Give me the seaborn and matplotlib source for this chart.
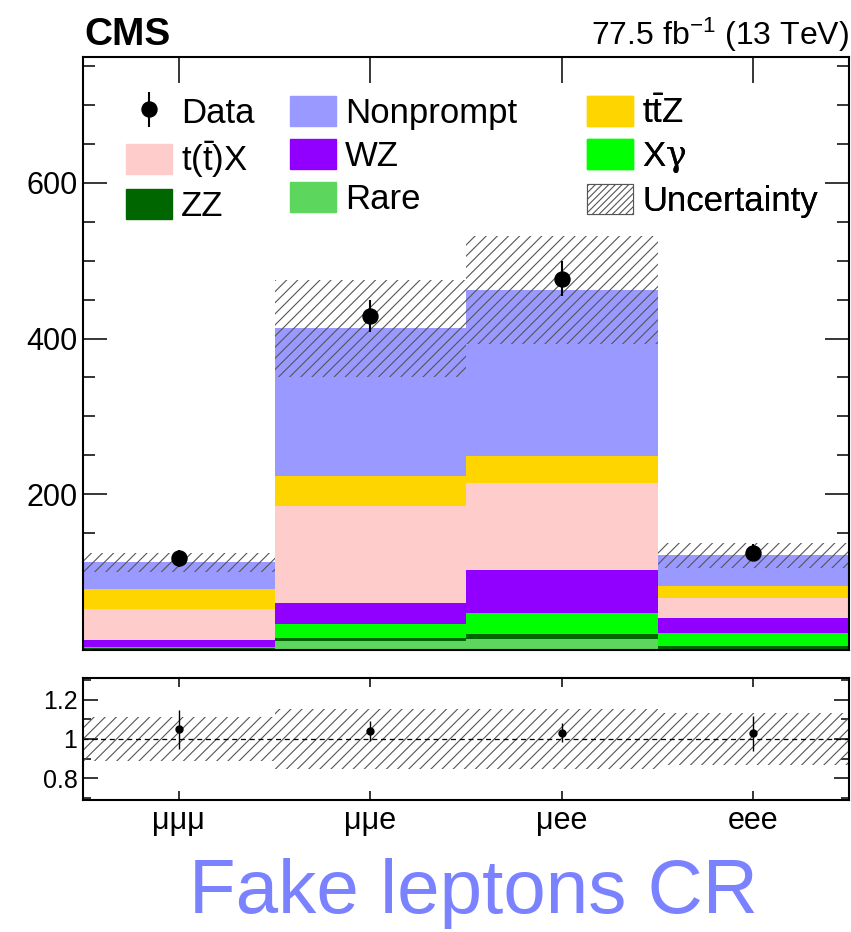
import numpy as np
import pandas as pd
import matplotlib
matplotlib.use("Agg")
import matplotlib.pyplot as plt
from matplotlib.patches import Patch
import seaborn as sns

# ---- data -------------------------------------------------------------
channels = ["μμμ", "μμe", "μee", "eee"]

# background processes, listed from top of the stack to the bottom
processes = ["Nonprompt", "ttZ", "tX", "WZ", "Xgamma", "ZZ", "Rare"]
nonprompt = [34, 190, 213, 39]
ttz = [26, 38, 35, 16]
ttx = [40, 124, 111, 26]
wz = [9, 27, 56, 19]
xgamma = [0.5, 18, 26, 17]
zz = [2, 4, 7, 4]
rare = [1, 12, 14, 0.5]

data_obs = [118, 429, 477, 125]
data_err = [11, 21, 22, 11]
rel_unc = [0.11, 0.15, 0.15, 0.13]

labels = {
    "Nonprompt": "Nonprompt",
    "ttZ": r"t$\bar{\mathrm{t}}$Z",
    "tX": r"t($\bar{\mathrm{t}}$)X",
    "WZ": "WZ",
    "Xgamma": r"X$\mathsf{\gamma}$",
    "ZZ": "ZZ",
    "Rare": "Rare",
}
colors = {
    "Nonprompt": "#9999ff",
    "ttZ": "#ffd500",
    "tX": "#ffcccc",
    "WZ": "#9100ff",
    "Xgamma": "#00ff00",
    "ZZ": "#006600",
    "Rare": "#5cd65c",
}

# ---- style ------------------------------------------------------------
sns.set_style("ticks")
plt.rcParams["font.family"] = ["Liberation Sans", "DejaVu Sans"]
plt.rcParams["mathtext.fontset"] = "custom"
plt.rcParams["mathtext.rm"] = "Liberation Sans"
plt.rcParams["mathtext.it"] = "Liberation Sans:italic"
plt.rcParams["mathtext.bf"] = "Liberation Sans:bold"
plt.rcParams["mathtext.sf"] = "DejaVu Serif"
plt.rcParams["mathtext.default"] = "rm"
plt.rcParams["hatch.linewidth"] = 0.8
plt.rcParams["axes.linewidth"] = 1.5
for key in ["text.color", "axes.labelcolor", "axes.edgecolor",
            "xtick.color", "ytick.color"]:
    plt.rcParams[key] = "black"

W, H = 851, 932
fig = plt.figure(figsize=(W / 100, H / 100), dpi=100)

def frac_box(x0, y0, x1, y1):
    return [x0 / W, 1 - y1 / H, (x1 - x0) / W, (y1 - y0) / H]

ax = fig.add_axes(frac_box(83, 56.7, 849, 650))
axr = fig.add_axes(frac_box(83, 678, 849, 800))

n_bins = len(channels)
bin_edges = [float(i) for i in range(n_bins + 1)]
centers = np.arange(n_bins) + 0.5

values = {"Nonprompt": nonprompt, "ttZ": ttz, "tX": ttx, "WZ": wz,
          "Xgamma": xgamma, "ZZ": zz, "Rare": rare}
df = pd.DataFrame(
    [{"bin": float(c), "process": p, "events": float(values[p][i])}
     for p in processes for i, c in enumerate(centers)]
)

sns.histplot(data=df, x="bin", weights="events", hue="process",
             hue_order=processes, palette=colors, multiple="stack",
             bins=bin_edges, element="bars", fill=True, alpha=1,
             linewidth=0, legend=False, ax=ax)

pred = np.sum([values[p] for p in processes], axis=0)
obs = np.array(data_obs, dtype=float)
err = np.array(data_err, dtype=float)
unc = np.array(rel_unc)

hatch_kw = dict(width=1.0, align="center", fill=False, hatch="///",
                edgecolor="#555555", linewidth=0)
ax.bar(centers, 2 * pred * unc, bottom=pred * (1 - unc), **hatch_kw)

data_handle = ax.errorbar(centers, obs, yerr=err, fmt="o", color="black",
                          markersize=10.8, elinewidth=1.5, capsize=0)

ax.set_xlim(0, 4)
ax.set_ylim(0, 762)
ax.set_xlabel("")
ax.set_ylabel("")
ax.set_xticks(centers)
ax.set_xticklabels([])
ax.set_yticks([200, 400, 600])
ax.set_yticks(np.arange(0, 762, 50), minor=True)
ax.tick_params(axis="x", which="major", direction="in", top=True, bottom=True,
               length=19, width=1.1)
ax.tick_params(axis="x", which="minor", top=False, bottom=False)
ax.tick_params(axis="y", which="major", direction="in", left=True, right=True,
               length=17, width=1.1, labelsize=22, pad=4)
ax.tick_params(axis="y", which="minor", direction="in", left=True, right=True,
               length=8.5, width=1.1)
for s in ax.spines.values():
    s.set_visible(True)

# ---- legend in three columns -------------------------------------------
leg_kw = dict(loc="upper left", frameon=False, fontsize=25, borderpad=0,
              borderaxespad=0, handlelength=1.33, handleheight=0.95,
              handletextpad=0.26, labelspacing=0.27)

unc_handle = Patch(facecolor="white", edgecolor="#555555", hatch="/////",
                   linewidth=0.8)
col1 = [(data_handle, "Data"),
        (Patch(color=colors["tX"]), labels["tX"]),
        (Patch(color=colors["ZZ"]), labels["ZZ"])]
col2 = [(Patch(color=colors["Nonprompt"]), labels["Nonprompt"]),
        (Patch(color=colors["WZ"]), labels["WZ"]),
        (Patch(color=colors["Rare"]), labels["Rare"])]
col3 = [(Patch(color=colors["ttZ"]), labels["ttZ"]),
        (Patch(color=colors["Xgamma"]), labels["Xgamma"]),
        (unc_handle, "Uncertainty")]

for xpos, col in zip([0.056, 0.270, 0.658], [col1, col2, col3]):
    h, l = zip(*col)
    leg = ax.legend(h, l, bbox_to_anchor=(xpos, 0.934), **leg_kw)
    ax.add_artist(leg)

# ---- ratio panel ---------------------------------------------------------
axr.bar(centers, 2 * unc, bottom=1 - unc, **hatch_kw)
axr.axhline(1.0, color="black", linestyle=(0, (4, 3)), linewidth=0.9)
axr.errorbar(centers, obs / pred, yerr=err / pred, fmt="o", color="black",
             markersize=5, elinewidth=1.0, capsize=0)
axr.set_xlim(0, 4)
axr.set_ylim(0.69, 1.31)
axr.set_xticks(centers)
axr.set_xticklabels(channels)
axr.set_yticks([0.8, 1.0, 1.2])
axr.set_yticklabels(["0.8", "1", "1.2"])
axr.set_yticks(np.arange(0.7, 1.31, 0.1), minor=True)
axr.tick_params(axis="x", which="major", direction="in", top=True, bottom=True,
                length=6.5, width=1.1, labelsize=22, pad=4)
axr.tick_params(axis="x", which="minor", top=False, bottom=False)
axr.tick_params(axis="y", which="major", direction="in", left=True, right=True,
                length=10.5, width=1.1, labelsize=18, pad=4)
axr.tick_params(axis="y", which="minor", direction="in", left=True, right=True,
                length=5.5, width=1.1)
for s in axr.spines.values():
    s.set_visible(True)

# ---- headers -------------------------------------------------------------
fig.text(84 / W, 1 - 45 / H, "CMS", fontsize=28, fontweight="bold",
         ha="left", va="baseline")
fig.text(849 / W, 1 - 45 / H, r"77.5 fb$^{-1}$ (13 TeV)", fontsize=23,
         ha="right", va="baseline")
fig.text(473 / W, 1 - 913 / H, "Fake leptons CR", fontsize=55,
         color="#7b82ff", ha="center", va="baseline")

fig.savefig("out.png", dpi=100)
